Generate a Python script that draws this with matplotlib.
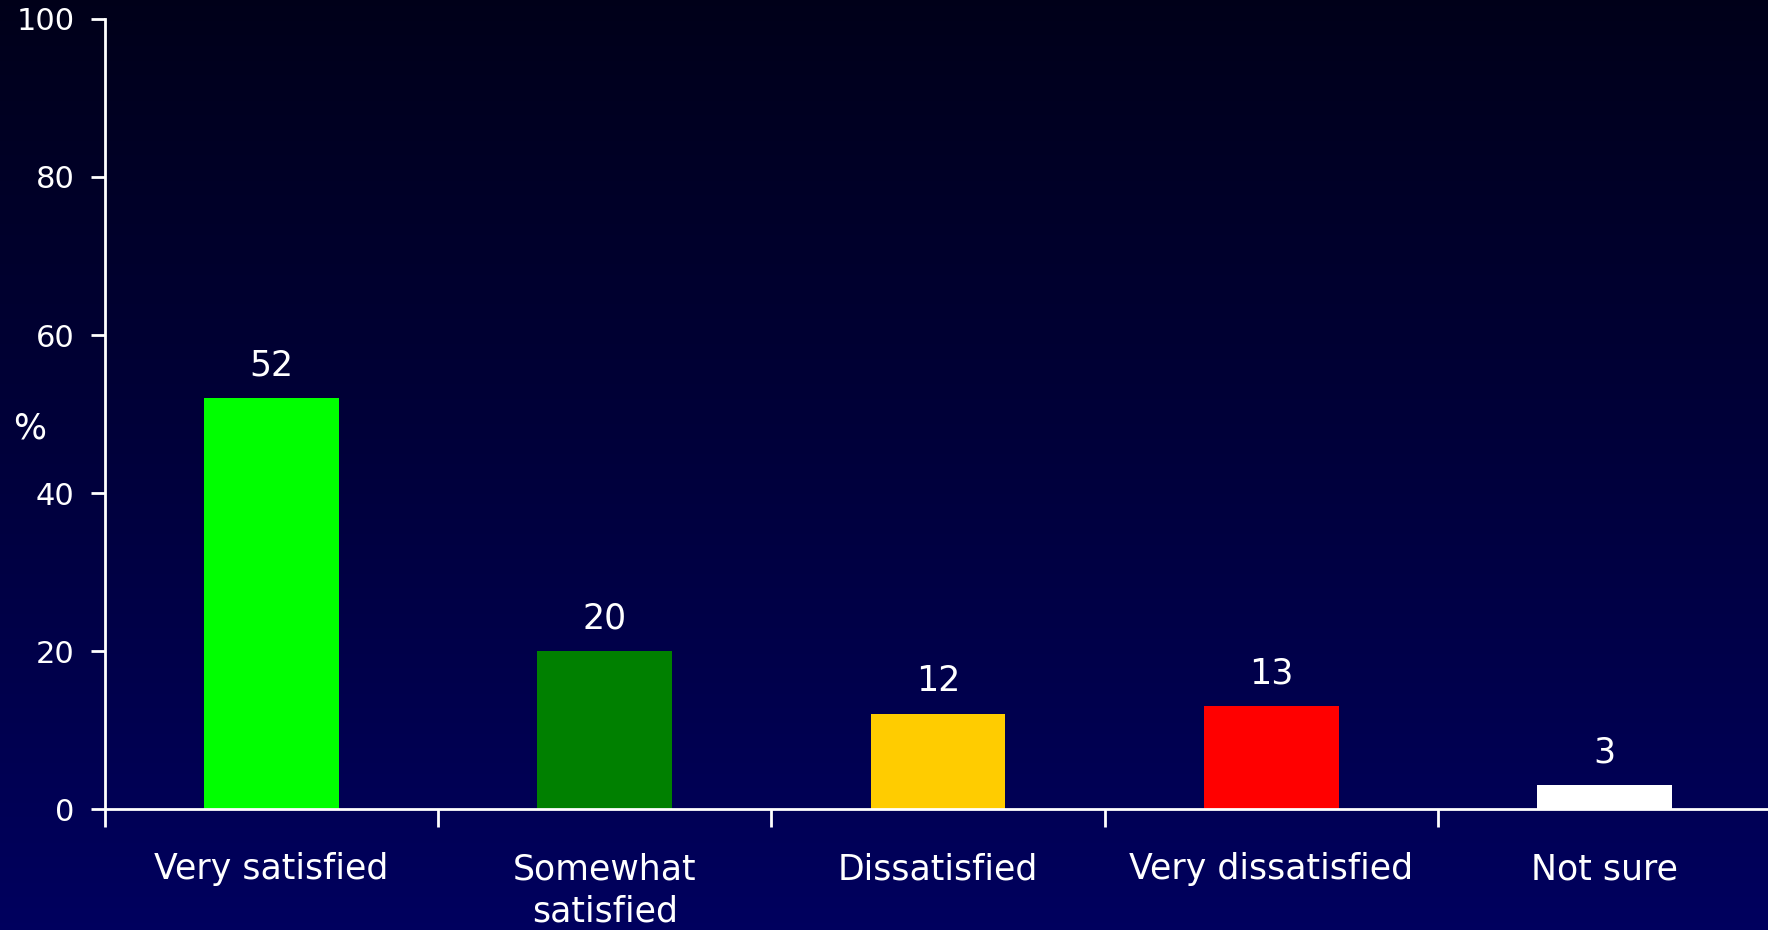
import numpy as np
import matplotlib
matplotlib.use("Agg")
import matplotlib.pyplot as plt

# survey data
categories = ["Very satisfied", "Somewhat\nsatisfied", "Dissatisfied", "Very dissatisfied", "Not sure"]
values = [52, 20, 12, 13, 3]
colors = ["#00ff00", "#008000", "#ffcc00", "#ff0000", "#ffffff"]
yticks = [0, 20, 40, 60, 80, 100]

plt.rcParams['font.family'] = ['DejaVu Sans']

fig = plt.figure(figsize=(17.68, 9.30), dpi=100)

# dark blue gradient background
bg = fig.add_axes([0, 0, 1, 1], zorder=0)
grad = np.linspace(0, 1, 256).reshape(-1, 1)
top = np.array([0.0, 0.0, 0.10])
bot = np.array([0.0, 0.0, 0.37])
img = top + (bot - top) * grad[:, :, None]
bg.imshow(img, aspect='auto', extent=[0, 1, 0, 1])
bg.axis('off')

ax = fig.add_axes([105 / 1768, 121 / 930, 1666 / 1768, 790 / 930], zorder=1)
ax.patch.set_alpha(0)

x = np.arange(len(categories))
bars = ax.bar(x, values, width=0.405, color=colors, zorder=2)
for xi, v in zip(x, values):
    ax.text(xi, v + 2.0, str(v), ha='center', va='bottom', color='white', fontsize=25)

ax.set_xlim(-0.5, len(categories) - 0.5)
ax.set_ylim(0, 100)
ax.set_yticks(yticks)
ax.set_xticks(x)
ax.set_xticklabels(categories, color='white', fontsize=25, linespacing=1.3)
ax.set_xticks(np.arange(-0.5, len(categories), 1), minor=True)
ax.tick_params(axis='x', which='major', length=0, pad=31)
ax.tick_params(axis='x', which='minor', length=13, width=2, color='white', direction='out')
ax.tick_params(axis='y', length=10, width=2, color='white', labelcolor='white', labelsize=22, pad=12)

for side in ['top', 'right']:
    ax.spines[side].set_visible(False)
for side in ['left', 'bottom']:
    ax.spines[side].set_color('white')
    ax.spines[side].set_linewidth(2)

fig.text(30 / 1768, 1 - 428 / 930, "%", color='white', fontsize=25, ha='center', va='center')

fig.savefig("out.png", dpi=100)
